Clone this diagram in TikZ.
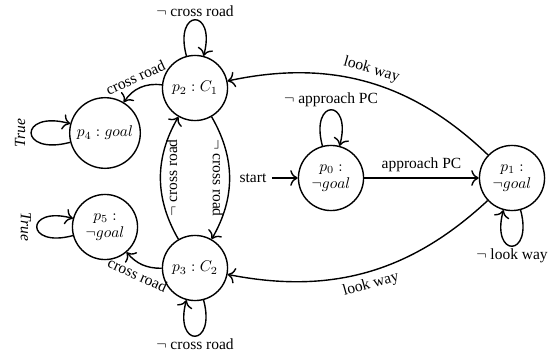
\documentclass[tikz,border=0pt]{standalone}
\usepackage{fontspec}
\setmainfont{Liberation Serif}
\usetikzlibrary{arrows.meta}
\tikzset{
  state/.style={circle, draw, line width=0.9pt, inner sep=3.3pt, minimum size=42pt, align=center},
  edge/.style={->, line width=0.9pt},
  every loop/.style={looseness=7.4},
}
\begin{document}
\begin{tikzpicture}[x=0.645pt, y=-0.645pt, >={To[scale=1.35]}]
\useasboundingbox (0,0) rectangle (548,364);
\node[state] (p0) at (331,178) {$p_0:$\\[-1pt]$\neg goal$};
\node[state] (p1) at (512,178) {$p_1:$\\[-1pt]$\neg goal$};
\node[state] (p2) at (195,88) {$p_2:C_1$};
\node[state] (p3) at (195,268) {$p_3:C_2$};
\node[state] (p4) at (105,133) {$p_4:goal$};
\node[state] (p5) at (105,227) {$p_5:$\\[-1pt]$\neg goal$};
\node (start) at (253,178) {start};

\draw[edge] (start) -- (p0);
\draw[edge] (p0) -- node[above] {approach PC} (p1);
\draw[edge] (p0) to[loop above] node[above, inner sep=1.5pt] {$\neg$ approach PC} (p0);
\draw[edge] (p1) to[loop below] node[below, inner sep=1.5pt] {$\neg$ look way} (p1);
\draw[edge] (p1) to[bend right=28] node[sloped, above] {look way} (p2);
\draw[edge] (p1) to[bend left=27] node[sloped, below] {look way} (p3);
\draw[edge] (p2) to[bend left=30] node[sloped, below] {$\neg$ cross road} (p3);
\draw[edge] (p3) to[bend left=30] node[sloped, below] {$\neg$ cross road} (p2);
\draw[edge] (p2) to[loop above] node[above, inner sep=1.5pt] {$\neg$ cross road} (p2);
\draw[edge] (p3) to[loop below] node[below, inner sep=1.5pt] {$\neg$ cross road} (p3);
\draw[edge] (p2) to[bend right=32] node[sloped, above] {cross road} (p4);
\draw[edge] (p3) to[bend left=25] node[sloped, below] {cross road} (p5);
\draw[edge] (p4) to[loop left] node[rotate=90, anchor=south] {\textit{True}} (p4);
\draw[edge] (p5) to[loop left] node[rotate=-90, anchor=north] {\textit{True}} (p5);
\end{tikzpicture}
\end{document}
